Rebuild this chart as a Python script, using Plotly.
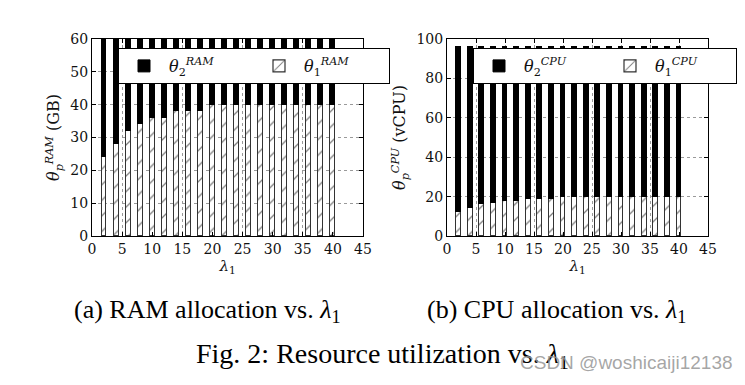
import plotly.graph_objects as go

# ---------------- data ----------------
lam1 = [2, 4, 6, 8, 10, 12, 14, 16, 18, 20, 22, 24, 26, 28, 30, 32, 34, 36, 38, 40]
ram_theta1 = [24, 28, 32, 34, 36, 36, 38, 38, 38, 40, 40, 40, 40, 40, 40, 40, 40, 40, 40, 40]
ram_total = 192
ram_theta2 = [ram_total - v for v in ram_theta1]
cpu_theta1 = [12, 14, 16, 17, 18, 18, 19, 19, 19, 20, 20, 20, 20, 20, 20, 20, 20, 20, 20, 20]
cpu_total = 96
cpu_theta2 = [cpu_total - v for v in cpu_theta1]

x_ticks = [0, 5, 10, 15, 20, 25, 30, 35, 40, 45]
ram_ticks = [0, 10, 20, 30, 40, 50, 60]
cpu_ticks = [0, 20, 40, 60, 80, 100]

# the page body has an 8px default margin, so the figure is drawn 8px in from the corner
OFF = 8
W, H = 745 - OFF, 385 - OFF


def px(x):
    return (x - OFF) / W


def py(y):
    return 1 - (y - OFF) / H


SERIF = "DejaVu Serif"
TIMES = "Liberation Serif, Times New Roman, serif"

fig = go.Figure()

bar_w = 0.8
hatch = dict(shape="/", fgcolor="black", bgcolor="white", size=11, solidity=0.12)

# RAM subplot
fig.add_trace(go.Bar(x=lam1, y=ram_theta1, width=bar_w, name="<i>θ</i><sub>1</sub><sup><i>RAM</i></sup>",
                     marker=dict(color="white", pattern=hatch, line=dict(color="#333", width=1.2)),
                     xaxis="x", yaxis="y", legend="legend", legendrank=2))
fig.add_trace(go.Bar(x=lam1, y=ram_theta2, width=bar_w, name="<i>θ</i><sub>2</sub><sup><i>RAM</i></sup>",
                     marker=dict(color="black", line=dict(color="black", width=1)),
                     xaxis="x", yaxis="y", legend="legend", legendrank=1))
# CPU subplot
fig.add_trace(go.Bar(x=lam1, y=cpu_theta1, width=bar_w, name="<i>θ</i><sub>1</sub><sup><i>CPU</i></sup>",
                     marker=dict(color="white", pattern=hatch, line=dict(color="#333", width=1.2)),
                     xaxis="x2", yaxis="y2", legend="legend2", legendrank=2))
fig.add_trace(go.Bar(x=lam1, y=cpu_theta2, width=bar_w, name="<i>θ</i><sub>2</sub><sup><i>CPU</i></sup>",
                     marker=dict(color="black", line=dict(color="black", width=1)),
                     xaxis="x2", yaxis="y2", legend="legend2", legendrank=1))

ydom = [py(236), py(39)]
common_axis = dict(showline=True, linecolor="black", linewidth=1, mirror="ticks",
                   ticks="inside", ticklen=4, tickcolor="black",
                   showgrid=True, gridcolor="#9a9a9a", griddash="dot", gridwidth=1,
                   zeroline=False, tickfont=dict(family=SERIF, size=14, color="#111"),
                   automargin=False)

xt = dict(tickvals=x_ticks, ticktext=[str(v) for v in x_ticks], range=[0, 45],
          title=dict(text="<i>λ</i><sub>1</sub>", font=dict(family=SERIF, size=15, color="#111"), standoff=2))

legend_common = dict(yanchor="top", xanchor="left", orientation="h", traceorder="normal",
                     bgcolor="white", bordercolor="black", borderwidth=1,
                     font=dict(family=SERIF, size=16, color="#111"),
                     entrywidthmode="pixels", itemwidth=40)

fig.update_layout(
    width=W, height=H,
    margin=dict(l=0, r=0, t=0, b=0),
    paper_bgcolor="white", plot_bgcolor="white",
    barmode="stack", bargap=0,
    xaxis=dict(domain=[px(92), px(363)], anchor="y", **xt, **common_axis),
    yaxis=dict(domain=ydom, anchor="x", range=[0, 60], tickvals=ram_ticks,
               title=dict(text="<i>θ</i><sub><i>p</i></sub><sup><i>RAM</i></sup> (GB)",
                          font=dict(family=SERIF, size=16, color="#111"), standoff=6),
               **common_axis),
    xaxis2=dict(domain=[px(447), px(708)], anchor="y2", **xt, **common_axis),
    yaxis2=dict(domain=ydom, anchor="x2", range=[0, 100], tickvals=cpu_ticks,
                title=dict(text="<i>θ</i><sub><i>p</i></sub><sup><i>CPU</i></sup> (vCPU)",
                           font=dict(family=SERIF, size=16, color="#111"), standoff=6),
                **common_axis),
    legend=dict(x=px(118), y=py(48), entrywidth=80, **legend_common),
    legend2=dict(x=px(473), y=py(48), entrywidth=76, **legend_common),
    annotations=[
        dict(text="(a) RAM allocation vs. <i>λ</i><sub>1</sub>", x=px(207), y=py(311),
             xref="paper", yref="paper", showarrow=False, xanchor="center", yanchor="middle",
             font=dict(family=TIMES, size=26, color="black")),
        dict(text="(b) CPU allocation vs. <i>λ</i><sub>1</sub>", x=px(556), y=py(311),
             xref="paper", yref="paper", showarrow=False, xanchor="center", yanchor="middle",
             font=dict(family=TIMES, size=26, color="black")),
        dict(text="Fig. 2: Resource utilization vs. <i>λ</i><sub>1</sub>", x=px(382), y=py(355),
             xref="paper", yref="paper", showarrow=False, xanchor="center", yanchor="middle",
             font=dict(family=TIMES, size=28, color="black")),
        dict(text="CSDN @woshicaiji12138", x=px(735), y=py(362),
             xref="paper", yref="paper", showarrow=False, xanchor="right", yanchor="middle",
             font=dict(family="Liberation Sans, Arial, sans-serif", size=19, color="rgba(150,150,150,0.85)")),
    ],
)

fig.write_html("out.html")
